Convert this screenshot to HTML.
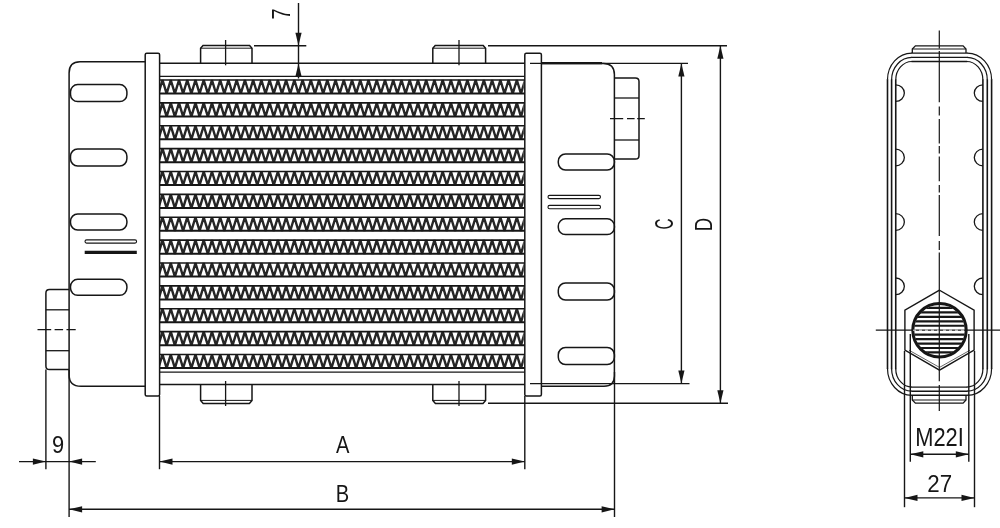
<!DOCTYPE html>
<html><head><meta charset="utf-8"><title>Oil cooler drawing</title>
<style>
html,body{margin:0;padding:0;background:#fff;}
body{width:1000px;height:528px;overflow:hidden;}
svg{display:block;filter:grayscale(1);}
text{font-family:"Liberation Sans",sans-serif;}
</style></head><body>
<svg width="1000" height="528" viewBox="0 0 1000 528" fill="none" stroke="#161616" stroke-linecap="butt">
<rect x="0" y="0" width="1000" height="528" fill="#fff" stroke="none"/>
<line x1="159.6" y1="63.3" x2="524.8" y2="63.3" stroke-width="1.5" />
<line x1="159.6" y1="76.3" x2="524.8" y2="76.3" stroke-width="1.2" />
<line x1="159.6" y1="372.1" x2="524.8" y2="372.1" stroke-width="1.2" />
<line x1="159.6" y1="384.5" x2="524.8" y2="384.5" stroke-width="1.5" />
<clipPath id="fc"><rect x="159.6" y="0" width="364.19999999999993" height="528"/></clipPath>
<g clip-path="url(#fc)">
<polyline points="154.28,80.00 158.40,93.70 162.52,80.00 166.64,93.70 170.76,80.00 174.88,93.70 179.00,80.00 183.12,93.70 187.24,80.00 191.36,93.70 195.48,80.00 199.60,93.70 203.72,80.00 207.84,93.70 211.96,80.00 216.08,93.70 220.20,80.00 224.32,93.70 228.44,80.00 232.56,93.70 236.68,80.00 240.80,93.70 244.92,80.00 249.04,93.70 253.16,80.00 257.28,93.70 261.40,80.00 265.52,93.70 269.64,80.00 273.76,93.70 277.88,80.00 282.00,93.70 286.12,80.00 290.24,93.70 294.36,80.00 298.48,93.70 302.60,80.00 306.72,93.70 310.84,80.00 314.96,93.70 319.08,80.00 323.20,93.70 327.32,80.00 331.44,93.70 335.56,80.00 339.68,93.70 343.80,80.00 347.92,93.70 352.04,80.00 356.16,93.70 360.28,80.00 364.40,93.70 368.52,80.00 372.64,93.70 376.76,80.00 380.88,93.70 385.00,80.00 389.12,93.70 393.24,80.00 397.36,93.70 401.48,80.00 405.60,93.70 409.72,80.00 413.84,93.70 417.96,80.00 422.08,93.70 426.20,80.00 430.32,93.70 434.44,80.00 438.56,93.70 442.68,80.00 446.80,93.70 450.92,80.00 455.04,93.70 459.16,80.00 463.28,93.70 467.40,80.00 471.52,93.70 475.64,80.00 479.76,93.70 483.88,80.00 488.00,93.70 492.12,80.00 496.24,93.70 500.36,80.00 504.48,93.70 508.60,80.00 512.72,93.70 516.84,80.00 520.96,93.70 525.08,80.00 529.20,93.70" stroke-width="2.4" stroke-linejoin="bevel" stroke="#262626"/>
<polyline points="154.28,102.88 158.40,116.58 162.52,102.88 166.64,116.58 170.76,102.88 174.88,116.58 179.00,102.88 183.12,116.58 187.24,102.88 191.36,116.58 195.48,102.88 199.60,116.58 203.72,102.88 207.84,116.58 211.96,102.88 216.08,116.58 220.20,102.88 224.32,116.58 228.44,102.88 232.56,116.58 236.68,102.88 240.80,116.58 244.92,102.88 249.04,116.58 253.16,102.88 257.28,116.58 261.40,102.88 265.52,116.58 269.64,102.88 273.76,116.58 277.88,102.88 282.00,116.58 286.12,102.88 290.24,116.58 294.36,102.88 298.48,116.58 302.60,102.88 306.72,116.58 310.84,102.88 314.96,116.58 319.08,102.88 323.20,116.58 327.32,102.88 331.44,116.58 335.56,102.88 339.68,116.58 343.80,102.88 347.92,116.58 352.04,102.88 356.16,116.58 360.28,102.88 364.40,116.58 368.52,102.88 372.64,116.58 376.76,102.88 380.88,116.58 385.00,102.88 389.12,116.58 393.24,102.88 397.36,116.58 401.48,102.88 405.60,116.58 409.72,102.88 413.84,116.58 417.96,102.88 422.08,116.58 426.20,102.88 430.32,116.58 434.44,102.88 438.56,116.58 442.68,102.88 446.80,116.58 450.92,102.88 455.04,116.58 459.16,102.88 463.28,116.58 467.40,102.88 471.52,116.58 475.64,102.88 479.76,116.58 483.88,102.88 488.00,116.58 492.12,102.88 496.24,116.58 500.36,102.88 504.48,116.58 508.60,102.88 512.72,116.58 516.84,102.88 520.96,116.58 525.08,102.88 529.20,116.58" stroke-width="2.4" stroke-linejoin="bevel" stroke="#262626"/>
<polyline points="154.28,125.75 158.40,139.45 162.52,125.75 166.64,139.45 170.76,125.75 174.88,139.45 179.00,125.75 183.12,139.45 187.24,125.75 191.36,139.45 195.48,125.75 199.60,139.45 203.72,125.75 207.84,139.45 211.96,125.75 216.08,139.45 220.20,125.75 224.32,139.45 228.44,125.75 232.56,139.45 236.68,125.75 240.80,139.45 244.92,125.75 249.04,139.45 253.16,125.75 257.28,139.45 261.40,125.75 265.52,139.45 269.64,125.75 273.76,139.45 277.88,125.75 282.00,139.45 286.12,125.75 290.24,139.45 294.36,125.75 298.48,139.45 302.60,125.75 306.72,139.45 310.84,125.75 314.96,139.45 319.08,125.75 323.20,139.45 327.32,125.75 331.44,139.45 335.56,125.75 339.68,139.45 343.80,125.75 347.92,139.45 352.04,125.75 356.16,139.45 360.28,125.75 364.40,139.45 368.52,125.75 372.64,139.45 376.76,125.75 380.88,139.45 385.00,125.75 389.12,139.45 393.24,125.75 397.36,139.45 401.48,125.75 405.60,139.45 409.72,125.75 413.84,139.45 417.96,125.75 422.08,139.45 426.20,125.75 430.32,139.45 434.44,125.75 438.56,139.45 442.68,125.75 446.80,139.45 450.92,125.75 455.04,139.45 459.16,125.75 463.28,139.45 467.40,125.75 471.52,139.45 475.64,125.75 479.76,139.45 483.88,125.75 488.00,139.45 492.12,125.75 496.24,139.45 500.36,125.75 504.48,139.45 508.60,125.75 512.72,139.45 516.84,125.75 520.96,139.45 525.08,125.75 529.20,139.45" stroke-width="2.4" stroke-linejoin="bevel" stroke="#262626"/>
<polyline points="154.28,148.62 158.40,162.32 162.52,148.62 166.64,162.32 170.76,148.62 174.88,162.32 179.00,148.62 183.12,162.32 187.24,148.62 191.36,162.32 195.48,148.62 199.60,162.32 203.72,148.62 207.84,162.32 211.96,148.62 216.08,162.32 220.20,148.62 224.32,162.32 228.44,148.62 232.56,162.32 236.68,148.62 240.80,162.32 244.92,148.62 249.04,162.32 253.16,148.62 257.28,162.32 261.40,148.62 265.52,162.32 269.64,148.62 273.76,162.32 277.88,148.62 282.00,162.32 286.12,148.62 290.24,162.32 294.36,148.62 298.48,162.32 302.60,148.62 306.72,162.32 310.84,148.62 314.96,162.32 319.08,148.62 323.20,162.32 327.32,148.62 331.44,162.32 335.56,148.62 339.68,162.32 343.80,148.62 347.92,162.32 352.04,148.62 356.16,162.32 360.28,148.62 364.40,162.32 368.52,148.62 372.64,162.32 376.76,148.62 380.88,162.32 385.00,148.62 389.12,162.32 393.24,148.62 397.36,162.32 401.48,148.62 405.60,162.32 409.72,148.62 413.84,162.32 417.96,148.62 422.08,162.32 426.20,148.62 430.32,162.32 434.44,148.62 438.56,162.32 442.68,148.62 446.80,162.32 450.92,148.62 455.04,162.32 459.16,148.62 463.28,162.32 467.40,148.62 471.52,162.32 475.64,148.62 479.76,162.32 483.88,148.62 488.00,162.32 492.12,148.62 496.24,162.32 500.36,148.62 504.48,162.32 508.60,148.62 512.72,162.32 516.84,148.62 520.96,162.32 525.08,148.62 529.20,162.32" stroke-width="2.4" stroke-linejoin="bevel" stroke="#262626"/>
<polyline points="154.28,171.50 158.40,185.20 162.52,171.50 166.64,185.20 170.76,171.50 174.88,185.20 179.00,171.50 183.12,185.20 187.24,171.50 191.36,185.20 195.48,171.50 199.60,185.20 203.72,171.50 207.84,185.20 211.96,171.50 216.08,185.20 220.20,171.50 224.32,185.20 228.44,171.50 232.56,185.20 236.68,171.50 240.80,185.20 244.92,171.50 249.04,185.20 253.16,171.50 257.28,185.20 261.40,171.50 265.52,185.20 269.64,171.50 273.76,185.20 277.88,171.50 282.00,185.20 286.12,171.50 290.24,185.20 294.36,171.50 298.48,185.20 302.60,171.50 306.72,185.20 310.84,171.50 314.96,185.20 319.08,171.50 323.20,185.20 327.32,171.50 331.44,185.20 335.56,171.50 339.68,185.20 343.80,171.50 347.92,185.20 352.04,171.50 356.16,185.20 360.28,171.50 364.40,185.20 368.52,171.50 372.64,185.20 376.76,171.50 380.88,185.20 385.00,171.50 389.12,185.20 393.24,171.50 397.36,185.20 401.48,171.50 405.60,185.20 409.72,171.50 413.84,185.20 417.96,171.50 422.08,185.20 426.20,171.50 430.32,185.20 434.44,171.50 438.56,185.20 442.68,171.50 446.80,185.20 450.92,171.50 455.04,185.20 459.16,171.50 463.28,185.20 467.40,171.50 471.52,185.20 475.64,171.50 479.76,185.20 483.88,171.50 488.00,185.20 492.12,171.50 496.24,185.20 500.36,171.50 504.48,185.20 508.60,171.50 512.72,185.20 516.84,171.50 520.96,185.20 525.08,171.50 529.20,185.20" stroke-width="2.4" stroke-linejoin="bevel" stroke="#262626"/>
<polyline points="154.28,194.38 158.40,208.07 162.52,194.38 166.64,208.07 170.76,194.38 174.88,208.07 179.00,194.38 183.12,208.07 187.24,194.38 191.36,208.07 195.48,194.38 199.60,208.07 203.72,194.38 207.84,208.07 211.96,194.38 216.08,208.07 220.20,194.38 224.32,208.07 228.44,194.38 232.56,208.07 236.68,194.38 240.80,208.07 244.92,194.38 249.04,208.07 253.16,194.38 257.28,208.07 261.40,194.38 265.52,208.07 269.64,194.38 273.76,208.07 277.88,194.38 282.00,208.07 286.12,194.38 290.24,208.07 294.36,194.38 298.48,208.07 302.60,194.38 306.72,208.07 310.84,194.38 314.96,208.07 319.08,194.38 323.20,208.07 327.32,194.38 331.44,208.07 335.56,194.38 339.68,208.07 343.80,194.38 347.92,208.07 352.04,194.38 356.16,208.07 360.28,194.38 364.40,208.07 368.52,194.38 372.64,208.07 376.76,194.38 380.88,208.07 385.00,194.38 389.12,208.07 393.24,194.38 397.36,208.07 401.48,194.38 405.60,208.07 409.72,194.38 413.84,208.07 417.96,194.38 422.08,208.07 426.20,194.38 430.32,208.07 434.44,194.38 438.56,208.07 442.68,194.38 446.80,208.07 450.92,194.38 455.04,208.07 459.16,194.38 463.28,208.07 467.40,194.38 471.52,208.07 475.64,194.38 479.76,208.07 483.88,194.38 488.00,208.07 492.12,194.38 496.24,208.07 500.36,194.38 504.48,208.07 508.60,194.38 512.72,208.07 516.84,194.38 520.96,208.07 525.08,194.38 529.20,208.07" stroke-width="2.4" stroke-linejoin="bevel" stroke="#262626"/>
<polyline points="154.28,217.25 158.40,230.95 162.52,217.25 166.64,230.95 170.76,217.25 174.88,230.95 179.00,217.25 183.12,230.95 187.24,217.25 191.36,230.95 195.48,217.25 199.60,230.95 203.72,217.25 207.84,230.95 211.96,217.25 216.08,230.95 220.20,217.25 224.32,230.95 228.44,217.25 232.56,230.95 236.68,217.25 240.80,230.95 244.92,217.25 249.04,230.95 253.16,217.25 257.28,230.95 261.40,217.25 265.52,230.95 269.64,217.25 273.76,230.95 277.88,217.25 282.00,230.95 286.12,217.25 290.24,230.95 294.36,217.25 298.48,230.95 302.60,217.25 306.72,230.95 310.84,217.25 314.96,230.95 319.08,217.25 323.20,230.95 327.32,217.25 331.44,230.95 335.56,217.25 339.68,230.95 343.80,217.25 347.92,230.95 352.04,217.25 356.16,230.95 360.28,217.25 364.40,230.95 368.52,217.25 372.64,230.95 376.76,217.25 380.88,230.95 385.00,217.25 389.12,230.95 393.24,217.25 397.36,230.95 401.48,217.25 405.60,230.95 409.72,217.25 413.84,230.95 417.96,217.25 422.08,230.95 426.20,217.25 430.32,230.95 434.44,217.25 438.56,230.95 442.68,217.25 446.80,230.95 450.92,217.25 455.04,230.95 459.16,217.25 463.28,230.95 467.40,217.25 471.52,230.95 475.64,217.25 479.76,230.95 483.88,217.25 488.00,230.95 492.12,217.25 496.24,230.95 500.36,217.25 504.48,230.95 508.60,217.25 512.72,230.95 516.84,217.25 520.96,230.95 525.08,217.25 529.20,230.95" stroke-width="2.4" stroke-linejoin="bevel" stroke="#262626"/>
<polyline points="154.28,240.12 158.40,253.82 162.52,240.12 166.64,253.82 170.76,240.12 174.88,253.82 179.00,240.12 183.12,253.82 187.24,240.12 191.36,253.82 195.48,240.12 199.60,253.82 203.72,240.12 207.84,253.82 211.96,240.12 216.08,253.82 220.20,240.12 224.32,253.82 228.44,240.12 232.56,253.82 236.68,240.12 240.80,253.82 244.92,240.12 249.04,253.82 253.16,240.12 257.28,253.82 261.40,240.12 265.52,253.82 269.64,240.12 273.76,253.82 277.88,240.12 282.00,253.82 286.12,240.12 290.24,253.82 294.36,240.12 298.48,253.82 302.60,240.12 306.72,253.82 310.84,240.12 314.96,253.82 319.08,240.12 323.20,253.82 327.32,240.12 331.44,253.82 335.56,240.12 339.68,253.82 343.80,240.12 347.92,253.82 352.04,240.12 356.16,253.82 360.28,240.12 364.40,253.82 368.52,240.12 372.64,253.82 376.76,240.12 380.88,253.82 385.00,240.12 389.12,253.82 393.24,240.12 397.36,253.82 401.48,240.12 405.60,253.82 409.72,240.12 413.84,253.82 417.96,240.12 422.08,253.82 426.20,240.12 430.32,253.82 434.44,240.12 438.56,253.82 442.68,240.12 446.80,253.82 450.92,240.12 455.04,253.82 459.16,240.12 463.28,253.82 467.40,240.12 471.52,253.82 475.64,240.12 479.76,253.82 483.88,240.12 488.00,253.82 492.12,240.12 496.24,253.82 500.36,240.12 504.48,253.82 508.60,240.12 512.72,253.82 516.84,240.12 520.96,253.82 525.08,240.12 529.20,253.82" stroke-width="2.4" stroke-linejoin="bevel" stroke="#262626"/>
<polyline points="154.28,263.00 158.40,276.70 162.52,263.00 166.64,276.70 170.76,263.00 174.88,276.70 179.00,263.00 183.12,276.70 187.24,263.00 191.36,276.70 195.48,263.00 199.60,276.70 203.72,263.00 207.84,276.70 211.96,263.00 216.08,276.70 220.20,263.00 224.32,276.70 228.44,263.00 232.56,276.70 236.68,263.00 240.80,276.70 244.92,263.00 249.04,276.70 253.16,263.00 257.28,276.70 261.40,263.00 265.52,276.70 269.64,263.00 273.76,276.70 277.88,263.00 282.00,276.70 286.12,263.00 290.24,276.70 294.36,263.00 298.48,276.70 302.60,263.00 306.72,276.70 310.84,263.00 314.96,276.70 319.08,263.00 323.20,276.70 327.32,263.00 331.44,276.70 335.56,263.00 339.68,276.70 343.80,263.00 347.92,276.70 352.04,263.00 356.16,276.70 360.28,263.00 364.40,276.70 368.52,263.00 372.64,276.70 376.76,263.00 380.88,276.70 385.00,263.00 389.12,276.70 393.24,263.00 397.36,276.70 401.48,263.00 405.60,276.70 409.72,263.00 413.84,276.70 417.96,263.00 422.08,276.70 426.20,263.00 430.32,276.70 434.44,263.00 438.56,276.70 442.68,263.00 446.80,276.70 450.92,263.00 455.04,276.70 459.16,263.00 463.28,276.70 467.40,263.00 471.52,276.70 475.64,263.00 479.76,276.70 483.88,263.00 488.00,276.70 492.12,263.00 496.24,276.70 500.36,263.00 504.48,276.70 508.60,263.00 512.72,276.70 516.84,263.00 520.96,276.70 525.08,263.00 529.20,276.70" stroke-width="2.4" stroke-linejoin="bevel" stroke="#262626"/>
<polyline points="154.28,285.88 158.40,299.57 162.52,285.88 166.64,299.57 170.76,285.88 174.88,299.57 179.00,285.88 183.12,299.57 187.24,285.88 191.36,299.57 195.48,285.88 199.60,299.57 203.72,285.88 207.84,299.57 211.96,285.88 216.08,299.57 220.20,285.88 224.32,299.57 228.44,285.88 232.56,299.57 236.68,285.88 240.80,299.57 244.92,285.88 249.04,299.57 253.16,285.88 257.28,299.57 261.40,285.88 265.52,299.57 269.64,285.88 273.76,299.57 277.88,285.88 282.00,299.57 286.12,285.88 290.24,299.57 294.36,285.88 298.48,299.57 302.60,285.88 306.72,299.57 310.84,285.88 314.96,299.57 319.08,285.88 323.20,299.57 327.32,285.88 331.44,299.57 335.56,285.88 339.68,299.57 343.80,285.88 347.92,299.57 352.04,285.88 356.16,299.57 360.28,285.88 364.40,299.57 368.52,285.88 372.64,299.57 376.76,285.88 380.88,299.57 385.00,285.88 389.12,299.57 393.24,285.88 397.36,299.57 401.48,285.88 405.60,299.57 409.72,285.88 413.84,299.57 417.96,285.88 422.08,299.57 426.20,285.88 430.32,299.57 434.44,285.88 438.56,299.57 442.68,285.88 446.80,299.57 450.92,285.88 455.04,299.57 459.16,285.88 463.28,299.57 467.40,285.88 471.52,299.57 475.64,285.88 479.76,299.57 483.88,285.88 488.00,299.57 492.12,285.88 496.24,299.57 500.36,285.88 504.48,299.57 508.60,285.88 512.72,299.57 516.84,285.88 520.96,299.57 525.08,285.88 529.20,299.57" stroke-width="2.4" stroke-linejoin="bevel" stroke="#262626"/>
<polyline points="154.28,308.75 158.40,322.45 162.52,308.75 166.64,322.45 170.76,308.75 174.88,322.45 179.00,308.75 183.12,322.45 187.24,308.75 191.36,322.45 195.48,308.75 199.60,322.45 203.72,308.75 207.84,322.45 211.96,308.75 216.08,322.45 220.20,308.75 224.32,322.45 228.44,308.75 232.56,322.45 236.68,308.75 240.80,322.45 244.92,308.75 249.04,322.45 253.16,308.75 257.28,322.45 261.40,308.75 265.52,322.45 269.64,308.75 273.76,322.45 277.88,308.75 282.00,322.45 286.12,308.75 290.24,322.45 294.36,308.75 298.48,322.45 302.60,308.75 306.72,322.45 310.84,308.75 314.96,322.45 319.08,308.75 323.20,322.45 327.32,308.75 331.44,322.45 335.56,308.75 339.68,322.45 343.80,308.75 347.92,322.45 352.04,308.75 356.16,322.45 360.28,308.75 364.40,322.45 368.52,308.75 372.64,322.45 376.76,308.75 380.88,322.45 385.00,308.75 389.12,322.45 393.24,308.75 397.36,322.45 401.48,308.75 405.60,322.45 409.72,308.75 413.84,322.45 417.96,308.75 422.08,322.45 426.20,308.75 430.32,322.45 434.44,308.75 438.56,322.45 442.68,308.75 446.80,322.45 450.92,308.75 455.04,322.45 459.16,308.75 463.28,322.45 467.40,308.75 471.52,322.45 475.64,308.75 479.76,322.45 483.88,308.75 488.00,322.45 492.12,308.75 496.24,322.45 500.36,308.75 504.48,322.45 508.60,308.75 512.72,322.45 516.84,308.75 520.96,322.45 525.08,308.75 529.20,322.45" stroke-width="2.4" stroke-linejoin="bevel" stroke="#262626"/>
<polyline points="154.28,331.62 158.40,345.32 162.52,331.62 166.64,345.32 170.76,331.62 174.88,345.32 179.00,331.62 183.12,345.32 187.24,331.62 191.36,345.32 195.48,331.62 199.60,345.32 203.72,331.62 207.84,345.32 211.96,331.62 216.08,345.32 220.20,331.62 224.32,345.32 228.44,331.62 232.56,345.32 236.68,331.62 240.80,345.32 244.92,331.62 249.04,345.32 253.16,331.62 257.28,345.32 261.40,331.62 265.52,345.32 269.64,331.62 273.76,345.32 277.88,331.62 282.00,345.32 286.12,331.62 290.24,345.32 294.36,331.62 298.48,345.32 302.60,331.62 306.72,345.32 310.84,331.62 314.96,345.32 319.08,331.62 323.20,345.32 327.32,331.62 331.44,345.32 335.56,331.62 339.68,345.32 343.80,331.62 347.92,345.32 352.04,331.62 356.16,345.32 360.28,331.62 364.40,345.32 368.52,331.62 372.64,345.32 376.76,331.62 380.88,345.32 385.00,331.62 389.12,345.32 393.24,331.62 397.36,345.32 401.48,331.62 405.60,345.32 409.72,331.62 413.84,345.32 417.96,331.62 422.08,345.32 426.20,331.62 430.32,345.32 434.44,331.62 438.56,345.32 442.68,331.62 446.80,345.32 450.92,331.62 455.04,345.32 459.16,331.62 463.28,345.32 467.40,331.62 471.52,345.32 475.64,331.62 479.76,345.32 483.88,331.62 488.00,345.32 492.12,331.62 496.24,345.32 500.36,331.62 504.48,345.32 508.60,331.62 512.72,345.32 516.84,331.62 520.96,345.32 525.08,331.62 529.20,345.32" stroke-width="2.4" stroke-linejoin="bevel" stroke="#262626"/>
<polyline points="154.28,354.50 158.40,368.20 162.52,354.50 166.64,368.20 170.76,354.50 174.88,368.20 179.00,354.50 183.12,368.20 187.24,354.50 191.36,368.20 195.48,354.50 199.60,368.20 203.72,354.50 207.84,368.20 211.96,354.50 216.08,368.20 220.20,354.50 224.32,368.20 228.44,354.50 232.56,368.20 236.68,354.50 240.80,368.20 244.92,354.50 249.04,368.20 253.16,354.50 257.28,368.20 261.40,354.50 265.52,368.20 269.64,354.50 273.76,368.20 277.88,354.50 282.00,368.20 286.12,354.50 290.24,368.20 294.36,354.50 298.48,368.20 302.60,354.50 306.72,368.20 310.84,354.50 314.96,368.20 319.08,354.50 323.20,368.20 327.32,354.50 331.44,368.20 335.56,354.50 339.68,368.20 343.80,354.50 347.92,368.20 352.04,354.50 356.16,368.20 360.28,354.50 364.40,368.20 368.52,354.50 372.64,368.20 376.76,354.50 380.88,368.20 385.00,354.50 389.12,368.20 393.24,354.50 397.36,368.20 401.48,354.50 405.60,368.20 409.72,354.50 413.84,368.20 417.96,354.50 422.08,368.20 426.20,354.50 430.32,368.20 434.44,354.50 438.56,368.20 442.68,354.50 446.80,368.20 450.92,354.50 455.04,368.20 459.16,354.50 463.28,368.20 467.40,354.50 471.52,368.20 475.64,354.50 479.76,368.20 483.88,354.50 488.00,368.20 492.12,354.50 496.24,368.20 500.36,354.50 504.48,368.20 508.60,354.50 512.72,368.20 516.84,354.50 520.96,368.20 525.08,354.50 529.20,368.20" stroke-width="2.4" stroke-linejoin="bevel" stroke="#262626"/>
</g>
<line x1="159.6" y1="80.0" x2="524.8" y2="80.0" stroke-width="1.6" />
<line x1="159.6" y1="93.5" x2="524.8" y2="93.5" stroke-width="2.0" />
<line x1="159.6" y1="102.875" x2="524.8" y2="102.875" stroke-width="1.6" />
<line x1="159.6" y1="116.375" x2="524.8" y2="116.375" stroke-width="2.0" />
<line x1="159.6" y1="125.75" x2="524.8" y2="125.75" stroke-width="1.6" />
<line x1="159.6" y1="139.25" x2="524.8" y2="139.25" stroke-width="2.0" />
<line x1="159.6" y1="148.625" x2="524.8" y2="148.625" stroke-width="1.6" />
<line x1="159.6" y1="162.125" x2="524.8" y2="162.125" stroke-width="2.0" />
<line x1="159.6" y1="171.5" x2="524.8" y2="171.5" stroke-width="1.6" />
<line x1="159.6" y1="185.0" x2="524.8" y2="185.0" stroke-width="2.0" />
<line x1="159.6" y1="194.375" x2="524.8" y2="194.375" stroke-width="1.6" />
<line x1="159.6" y1="207.875" x2="524.8" y2="207.875" stroke-width="2.0" />
<line x1="159.6" y1="217.25" x2="524.8" y2="217.25" stroke-width="1.6" />
<line x1="159.6" y1="230.75" x2="524.8" y2="230.75" stroke-width="2.0" />
<line x1="159.6" y1="240.125" x2="524.8" y2="240.125" stroke-width="1.6" />
<line x1="159.6" y1="253.625" x2="524.8" y2="253.625" stroke-width="2.0" />
<line x1="159.6" y1="263.0" x2="524.8" y2="263.0" stroke-width="1.6" />
<line x1="159.6" y1="276.5" x2="524.8" y2="276.5" stroke-width="2.0" />
<line x1="159.6" y1="285.875" x2="524.8" y2="285.875" stroke-width="1.6" />
<line x1="159.6" y1="299.375" x2="524.8" y2="299.375" stroke-width="2.0" />
<line x1="159.6" y1="308.75" x2="524.8" y2="308.75" stroke-width="1.6" />
<line x1="159.6" y1="322.25" x2="524.8" y2="322.25" stroke-width="2.0" />
<line x1="159.6" y1="331.625" x2="524.8" y2="331.625" stroke-width="1.6" />
<line x1="159.6" y1="345.125" x2="524.8" y2="345.125" stroke-width="2.0" />
<line x1="159.6" y1="354.5" x2="524.8" y2="354.5" stroke-width="1.6" />
<line x1="159.6" y1="368.0" x2="524.8" y2="368.0" stroke-width="2.0" />
<path d="M145.2,62 V54.7 Q145.2,53.2 146.7,53.2 H158.1 Q159.6,53.2 159.6,54.7 V394.5 Q159.6,396 158.1,396 H146.7 Q145.2,396 145.2,394.5 V62" stroke-width="1.5" />
<path d="M524.8,62 V54.7 Q524.8,53.2 526.3,53.2 H539.9 Q541.4,53.2 541.4,54.7 V394.5 Q541.4,396 539.9,396 H526.3 Q524.8,396 524.8,394.5 V62" stroke-width="1.5" />
<path d="M145.2,61.8 H80 Q69.1,61.8 69.1,73 V375 Q69.1,386.3 81,386.3 H145.2" stroke-width="1.5" />
<rect x="70.5" y="84.6" width="56.400000000000006" height="17.0" rx="7.2" ry="7.2" stroke-width="1.5"/>
<rect x="70.5" y="149" width="56.400000000000006" height="17" rx="7.2" ry="7.2" stroke-width="1.5"/>
<rect x="70.5" y="214" width="56.400000000000006" height="16" rx="7.2" ry="7.2" stroke-width="1.5"/>
<rect x="70.5" y="279.3" width="56.400000000000006" height="16.0" rx="7.2" ry="7.2" stroke-width="1.5"/>
<rect x="85" y="239.9" width="51.6" height="3.2" rx="1.6" stroke-width="1.1"/>
<line x1="84.7" y1="252.3" x2="136.8" y2="252.3" stroke-width="3.2" />
<path d="M69.1,289.6 H49.5 Q45.9,289.6 45.9,293.2 V366 Q45.9,369.6 49.5,369.6 H69.1" stroke-width="1.5" />
<line x1="45.9" y1="309.8" x2="69.1" y2="309.8" stroke-width="1.3" />
<line x1="45.9" y1="350.7" x2="69.1" y2="350.7" stroke-width="1.3" />
<line x1="37.5" y1="329.6" x2="75.7" y2="329.6" stroke-width="1.3" stroke-dasharray="13.7 3.4 8.5 3.4 20"/>
<path d="M541.4,63.4 H603.5 Q614.4,63.4 614.4,74.5 V376 Q614.4,386.3 604,386.3 H541.4" stroke-width="1.5" />
<line x1="541.4" y1="63.2" x2="602" y2="63.2" stroke-width="2.2" />
<rect x="558.3" y="154" width="56.10000000000002" height="16" rx="7.2" ry="7.2" stroke-width="1.5"/>
<rect x="558.3" y="218.8" width="56.10000000000002" height="15.799999999999983" rx="7.2" ry="7.2" stroke-width="1.5"/>
<rect x="558.3" y="283" width="56.10000000000002" height="17" rx="7.2" ry="7.2" stroke-width="1.5"/>
<rect x="558.3" y="347.5" width="56.10000000000002" height="17.0" rx="7.2" ry="7.2" stroke-width="1.5"/>
<rect x="548" y="195.4" width="52.5" height="3.2" rx="1.6" stroke-width="1.1"/>
<rect x="548" y="205.4" width="52.5" height="3.4" rx="1.6" stroke-width="1.1"/>
<path d="M614.4,78 H635.4 Q639,78 639,81.6 V155.4 Q639,159 635.4,159 H614.4" stroke-width="1.5" />
<line x1="614.4" y1="98" x2="639" y2="98" stroke-width="1.3" />
<line x1="614.4" y1="140" x2="639" y2="140" stroke-width="1.3" />
<line x1="610" y1="118.7" x2="644.8" y2="118.7" stroke-width="1.3" stroke-dasharray="13.2 3.8 7.6 2.6 20"/>
<path d="M200.6,63.3 V48.2 L203.0,45.4 H249.6 L252.0,48.2 V63.3" stroke-width="1.5" />
<line x1="200.6" y1="48.2" x2="252.0" y2="48.2" stroke-width="1.0" />
<line x1="225.6" y1="40" x2="225.6" y2="65.3" stroke-width="1.3" />
<path d="M200.6,384.5 V400.4 L203.2,403.4 H249.4 L252.0,400.4 V384.5" stroke-width="1.5" />
<line x1="200.6" y1="400.4" x2="252.0" y2="400.4" stroke-width="1.0" />
<line x1="225.6" y1="381" x2="225.6" y2="406" stroke-width="1.3" />
<path d="M432.8,63.3 V48.2 L435.2,45.4 H483.20000000000005 L485.6,48.2 V63.3" stroke-width="1.5" />
<line x1="432.8" y1="48.2" x2="485.6" y2="48.2" stroke-width="1.0" />
<line x1="459.0" y1="40" x2="459.0" y2="65.3" stroke-width="1.3" />
<path d="M432.8,384.5 V400.4 L435.40000000000003,403.4 H483.0 L485.6,400.4 V384.5" stroke-width="1.5" />
<line x1="432.8" y1="400.4" x2="485.6" y2="400.4" stroke-width="1.0" />
<line x1="459.0" y1="381" x2="459.0" y2="406" stroke-width="1.3" />
<line x1="298.5" y1="3" x2="298.5" y2="78.5" stroke-width="1.4" />
<line x1="254" y1="45.8" x2="306.3" y2="45.8" stroke-width="1.4" />
<polygon points="298.5,45.8 295.4,32.8 301.6,32.8" fill="#161616" stroke="none"/>
<polygon points="298.5,63.6 295.4,76.6 301.6,76.6" fill="#161616" stroke="none"/>
<text transform="translate(289.7,14) rotate(-90) scale(0.8,1)" font-size="25" text-anchor="middle" fill="#161616" stroke="none">7</text>
<line x1="45.9" y1="369.5" x2="45.9" y2="469.2" stroke-width="1.4" />
<line x1="69.1" y1="370" x2="69.1" y2="517" stroke-width="1.4" />
<line x1="19" y1="461.6" x2="95.8" y2="461.6" stroke-width="1.4" />
<polygon points="45.9,461.6 32.9,458.5 32.9,464.70000000000005" fill="#161616" stroke="none"/>
<polygon points="69.1,461.6 82.1,458.5 82.1,464.70000000000005" fill="#161616" stroke="none"/>
<text transform="translate(58,453.2) rotate(0) scale(0.88,1)" font-size="24.8" text-anchor="middle" fill="#161616" stroke="none">9</text>
<line x1="159.5" y1="396" x2="159.5" y2="469.2" stroke-width="1.4" />
<line x1="524.8" y1="396" x2="524.8" y2="469.2" stroke-width="1.4" />
<line x1="159.5" y1="461.6" x2="524.8" y2="461.6" stroke-width="1.4" />
<polygon points="159.5,461.6 172.5,458.5 172.5,464.70000000000005" fill="#161616" stroke="none"/>
<polygon points="524.8,461.6 511.79999999999995,458.5 511.79999999999995,464.70000000000005" fill="#161616" stroke="none"/>
<text transform="translate(342.8,453.2) rotate(0) scale(0.86,1)" font-size="23.4" text-anchor="middle" fill="#161616" stroke="none">A</text>
<line x1="614.5" y1="372" x2="614.5" y2="517" stroke-width="1.4" />
<line x1="69.1" y1="509.3" x2="614.6" y2="509.3" stroke-width="1.4" />
<polygon points="69.1,509.3 82.1,506.2 82.1,512.4" fill="#161616" stroke="none"/>
<polygon points="614.6,509.3 601.6,506.2 601.6,512.4" fill="#161616" stroke="none"/>
<text transform="translate(342.5,501.6) rotate(0) scale(0.86,1)" font-size="23.4" text-anchor="middle" fill="#161616" stroke="none">B</text>
<line x1="530" y1="63.4" x2="688" y2="63.4" stroke-width="1.4" />
<line x1="530" y1="383.6" x2="689.5" y2="383.6" stroke-width="1.4" />
<line x1="681.4" y1="63.4" x2="681.4" y2="383.6" stroke-width="1.4" />
<polygon points="681.4,63.4 678.3,76.4 684.5,76.4" fill="#161616" stroke="none"/>
<polygon points="681.4,383.6 678.3,370.6 684.5,370.6" fill="#161616" stroke="none"/>
<text transform="translate(672.6,223.9) rotate(-90) scale(0.6,1)" font-size="25.5" text-anchor="middle" fill="#161616" stroke="none">C</text>
<line x1="488" y1="45.7" x2="727" y2="45.7" stroke-width="1.4" />
<line x1="488" y1="403.2" x2="728" y2="403.2" stroke-width="1.4" />
<line x1="720.4" y1="45.7" x2="720.4" y2="403.2" stroke-width="1.4" />
<polygon points="720.4,45.7 717.3,58.7 723.5,58.7" fill="#161616" stroke="none"/>
<polygon points="720.4,403.2 717.3,390.2 723.5,390.2" fill="#161616" stroke="none"/>
<text transform="translate(712.1,224.6) rotate(-90) scale(0.76,1)" font-size="24.5" text-anchor="middle" fill="#161616" stroke="none">D</text>
<path d="M887.5,79.8 C887.50,65.05 898.38,53.10 911.8,53.1" stroke-width="1.2" />
<path d="M967.3000000000001,53.1 C980.72,53.10 991.60,65.05 991.6,79.8" stroke-width="1.2" />
<path d="M991.6,368.6 C991.60,383.35 980.72,395.30 967.3000000000001,395.3" stroke-width="1.2" />
<path d="M911.8,395.3 C898.38,395.30 887.50,383.35 887.5,368.6" stroke-width="1.2" />
<line x1="887.5" y1="79.3" x2="887.5" y2="369.1" stroke-width="1.6" />
<line x1="991.6" y1="79.3" x2="991.6" y2="369.1" stroke-width="1.6" />
<line x1="911.3" y1="53.1" x2="967.8000000000001" y2="53.1" stroke-width="1.4" />
<line x1="911.3" y1="395.3" x2="967.8000000000001" y2="395.3" stroke-width="1.4" />
<path d="M891.6,79.9 C891.60,67.47 900.69,57.40 911.9,57.4" stroke-width="1.2" />
<path d="M967.0,57.4 C978.21,57.40 987.30,67.47 987.3,79.9" stroke-width="1.2" />
<path d="M987.3,368.7 C987.30,381.13 978.21,391.20 967.0,391.2" stroke-width="1.2" />
<path d="M911.9,391.2 C900.69,391.20 891.60,381.13 891.6,368.7" stroke-width="1.2" />
<line x1="891.6" y1="79.4" x2="891.6" y2="369.2" stroke-width="1.6" />
<line x1="987.3" y1="79.4" x2="987.3" y2="369.2" stroke-width="1.6" />
<line x1="911.4" y1="57.4" x2="967.5" y2="57.4" stroke-width="1.4" />
<line x1="911.4" y1="391.2" x2="967.5" y2="391.2" stroke-width="1.4" />
<path d="M895.75,79.9 C895.75,69.74 903.00,61.50 911.95,61.5" stroke-width="1.2" />
<path d="M966.6999999999999,61.5 C975.65,61.50 982.90,69.74 982.9,79.9" stroke-width="1.2" />
<path d="M982.9,368.70000000000005 C982.90,378.86 975.65,387.10 966.6999999999999,387.1" stroke-width="1.2" />
<path d="M911.95,387.1 C903.00,387.10 895.75,378.86 895.75,368.70000000000005" stroke-width="1.2" />
<line x1="895.75" y1="79.4" x2="895.75" y2="369.20000000000005" stroke-width="1.6" />
<line x1="982.9" y1="79.4" x2="982.9" y2="369.20000000000005" stroke-width="1.6" />
<line x1="911.45" y1="61.5" x2="967.1999999999999" y2="61.5" stroke-width="1.4" />
<line x1="911.45" y1="387.1" x2="967.1999999999999" y2="387.1" stroke-width="1.4" />
<path d="M912.3,53.1 V49 L915.4,45.9 H963.1 L966,49 V53.1" stroke-width="1.3" />
<line x1="912.3" y1="49" x2="966" y2="49" stroke-width="1.1" />
<path d="M912.3,395.3 V400 L915.4,403.1 H963.1 L966,400 V395.3" stroke-width="1.3" />
<line x1="912.3" y1="400" x2="966" y2="400" stroke-width="1.1" />
<path d="M895.75,84.8 A8.6,8.3 0 0 1 895.75,101.39999999999999" stroke-width="1.3" />
<path d="M982.9,84.8 A8.6,8.3 0 0 0 982.9,101.39999999999999" stroke-width="1.3" />
<path d="M895.75,149.2 A8.6,8.3 0 0 1 895.75,165.8" stroke-width="1.3" />
<path d="M982.9,149.2 A8.6,8.3 0 0 0 982.9,165.8" stroke-width="1.3" />
<path d="M895.75,213.7 A8.6,8.3 0 0 1 895.75,230.3" stroke-width="1.3" />
<path d="M982.9,213.7 A8.6,8.3 0 0 0 982.9,230.3" stroke-width="1.3" />
<path d="M895.75,278.0 A8.6,8.3 0 0 1 895.75,294.6" stroke-width="1.3" />
<path d="M982.9,278.0 A8.6,8.3 0 0 0 982.9,294.6" stroke-width="1.3" />
<line x1="939.3" y1="30.6" x2="939.3" y2="48.6" stroke-width="1.2" />
<line x1="939.3" y1="51" x2="939.3" y2="102.3" stroke-width="1.2" />
<line x1="939.3" y1="106.6" x2="939.3" y2="115.4" stroke-width="1.2" />
<line x1="939.3" y1="119.1" x2="939.3" y2="143.5" stroke-width="1.2" />
<line x1="939.3" y1="146" x2="939.3" y2="153.5" stroke-width="1.2" />
<line x1="939.3" y1="156.5" x2="939.3" y2="181.2" stroke-width="1.2" />
<line x1="939.3" y1="185" x2="939.3" y2="192.5" stroke-width="1.2" />
<line x1="939.3" y1="195" x2="939.3" y2="236" stroke-width="1.2" />
<line x1="939.3" y1="241" x2="939.3" y2="250" stroke-width="1.2" />
<line x1="939.3" y1="252.5" x2="939.3" y2="290" stroke-width="1.2" />
<polygon points="939.5,290.2 904.9,310.2 904.9,350.2 939.5,370.2 974.1,350.2 974.1,310.2" fill="#fff" stroke-width="1.4"/>
<circle cx="939.5" cy="330.2" r="26.7" fill="#fff" stroke-width="3.0"/>
<clipPath id="cc"><circle cx="939.5" cy="330.2" r="25.5"/></clipPath>
<g clip-path="url(#cc)">
<line x1="905" y1="307.95" x2="975" y2="307.95" stroke-width="2.2" />
<line x1="905" y1="312.4" x2="975" y2="312.4" stroke-width="2.2" />
<line x1="905" y1="316.84999999999997" x2="975" y2="316.84999999999997" stroke-width="2.2" />
<line x1="905" y1="321.3" x2="975" y2="321.3" stroke-width="2.2" />
<line x1="905" y1="325.75" x2="975" y2="325.75" stroke-width="2.2" />
<line x1="905" y1="334.65" x2="975" y2="334.65" stroke-width="2.2" />
<line x1="905" y1="339.09999999999997" x2="975" y2="339.09999999999997" stroke-width="2.2" />
<line x1="905" y1="343.55" x2="975" y2="343.55" stroke-width="2.2" />
<line x1="905" y1="348.0" x2="975" y2="348.0" stroke-width="2.2" />
<line x1="905" y1="352.45" x2="975" y2="352.45" stroke-width="2.2" />
</g>
<path d="M909.0,350.2 L939.5,367.4 L970.0,350.2" stroke-width="0.9" stroke="#555"/>
<line x1="875.8" y1="330.2" x2="1000" y2="330.2" stroke-width="1.3" />
<line x1="913" y1="330.2" x2="965" y2="330.2" stroke-width="0.9" stroke="#fff" stroke-dasharray="3 3"/>
<line x1="939.3" y1="290" x2="939.3" y2="381.2" stroke-width="1.2" />
<line x1="939.3" y1="385" x2="939.3" y2="411" stroke-width="1.2" />
<line x1="904.5" y1="351" x2="904.5" y2="507.2" stroke-width="1.4" />
<line x1="974.5" y1="351" x2="974.5" y2="507.2" stroke-width="1.4" />
<line x1="910.3" y1="334" x2="910.3" y2="461.8" stroke-width="1.4" />
<line x1="968.8" y1="334" x2="968.8" y2="461.8" stroke-width="1.4" />
<line x1="910.3" y1="454.3" x2="968.8" y2="454.3" stroke-width="1.4" />
<polygon points="910.3,454.3 923.3,451.2 923.3,457.40000000000003" fill="#161616" stroke="none"/>
<polygon points="968.8,454.3 955.8,451.2 955.8,457.40000000000003" fill="#161616" stroke="none"/>
<text transform="translate(939.5,445.7) rotate(0) scale(0.875,1)" font-size="25" text-anchor="middle" fill="#161616" stroke="none">M22I</text>
<line x1="904.5" y1="497.9" x2="974.5" y2="497.9" stroke-width="1.4" />
<polygon points="904.5,497.9 917.5,494.79999999999995 917.5,501.0" fill="#161616" stroke="none"/>
<polygon points="974.5,497.9 961.5,494.79999999999995 961.5,501.0" fill="#161616" stroke="none"/>
<text transform="translate(939.7,491.5) rotate(0) scale(0.93,1)" font-size="24" text-anchor="middle" fill="#161616" stroke="none">27</text>
</svg>
</body></html>
